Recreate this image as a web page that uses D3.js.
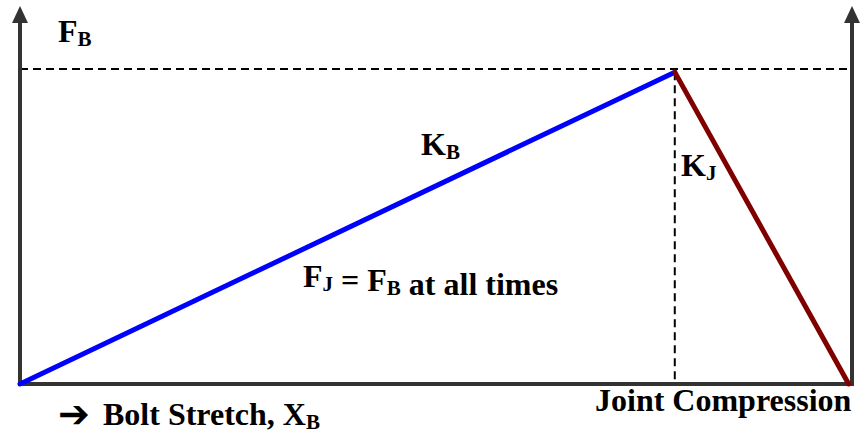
<!DOCTYPE html>
<html>
<head>
<meta charset="utf-8">
<script src="https://cdn.jsdelivr.net/npm/d3@7/dist/d3.min.js"></script>
<style>
  body { margin: 0; background: #fff; }
  svg { display: block; }
</style>
</head>
<body>
<div id="chart"></div>
<script>
// stretch (x, % of total) and force (y, % of max)
const bolt = [{ x: 0, f: 0 }, { x: 78.7, f: 99 }];
const joint = [{ x: 78.7, f: 99 }, { x: 99.6, f: 0 }];
const maxForce = 100;
const xDomain = [0, 100];
const yDomain = [0, 100];

const W = 862, H = 431;
const MARGIN = { top: 69, right: 10, bottom: 47, left: 20 };
const FONT = "'Liberation Serif', 'Times New Roman', serif";

const svg = d3.select("#chart").append("svg")
	.attr("width", W)
	.attr("height", H);

const x = d3.scaleLinear().domain(xDomain).range([MARGIN.left, W - MARGIN.right]);
const y = d3.scaleLinear().domain(yDomain).range([H - MARGIN.bottom, MARGIN.top]);

const AXIS = "#333";

// dashed guides (max force and peak stretch)
svg.append("line")
	.attr("x1", x(0)).attr("x2", x(100))
	.attr("y1", y(maxForce)).attr("y2", y(maxForce))
	.attr("stroke", "#000").attr("stroke-width", 2)
	.attr("stroke-dasharray", "8,5");

svg.append("line")
	.attr("x1", x(bolt[1].x)).attr("x2", x(bolt[1].x))
	.attr("y1", y(bolt[1].f)).attr("y2", y(0))
	.attr("stroke", "#000").attr("stroke-width", 2)
	.attr("stroke-dasharray", "8,5");

// axes: bottom line plus two vertical arrows
svg.append("line")
	.attr("x1", x(0)).attr("x2", x(100))
	.attr("y1", y(0)).attr("y2", y(0))
	.attr("stroke", AXIS).attr("stroke-width", 4);

[0, 100].forEach(v => {
	const px = x(v);
	svg.append("line")
		.attr("x1", px).attr("x2", px)
		.attr("y1", y(0) + 2).attr("y2", 20)
		.attr("stroke", AXIS).attr("stroke-width", 4);
	svg.append("path")
		.attr("d", `M${px},6 L${px - 8},23 L${px + 8},23 Z`)
		.attr("fill", AXIS);
});

const line = d3.line().x(d => x(d.x)).y(d => y(d.f));

svg.append("path")
	.datum(bolt)
	.attr("d", line)
	.attr("fill", "none")
	.attr("stroke", "#0000ff")
	.attr("stroke-width", 5)
	.attr("stroke-linecap", "round");

svg.append("path")
	.datum(joint)
	.attr("d", line)
	.attr("fill", "none")
	.attr("stroke", "#800000")
	.attr("stroke-width", 5)
	.attr("stroke-linecap", "round");

// labels with subscripts
function label(px, py, parts) {
	const t = svg.append("text")
		.attr("x", px).attr("y", py)
		.attr("font-family", FONT)
		.attr("font-weight", "bold")
		.attr("font-size", 32)
		.attr("fill", "#000");
	parts.forEach(p => {
		if (p.sub) {
			t.append("tspan").attr("dy", 4).attr("font-size", 21).text(p.sub);
			t.append("tspan").attr("dy", -4).text("");
		} else {
			t.append("tspan").text(p.t);
		}
	});
	return t;
}

label(58, 42, [{ t: "F" }, { sub: "B" }]);
label(421, 155, [{ t: "K" }, { sub: "B" }]);
label(681, 176, [{ t: "K" }, { sub: "J" }]);
label(303, 287, [{ t: "F" }, { sub: "J" }, { t: " = F" }, { sub: "B" }, { t: " at all times" }]);
label(103, 425, [{ t: "Bolt Stretch, X" }, { sub: "B" }]);
label(595, 411, [{ t: "Joint Compression" }]);

svg.append("text")
	.attr("x", 58).attr("y", 427)
	.attr("font-family", "'DejaVu Sans', sans-serif")
	.attr("font-weight", "bold")
	.attr("font-size", 38)
	.attr("fill", "#000")
	.text("\u2794");
</script>
</body>
</html>
